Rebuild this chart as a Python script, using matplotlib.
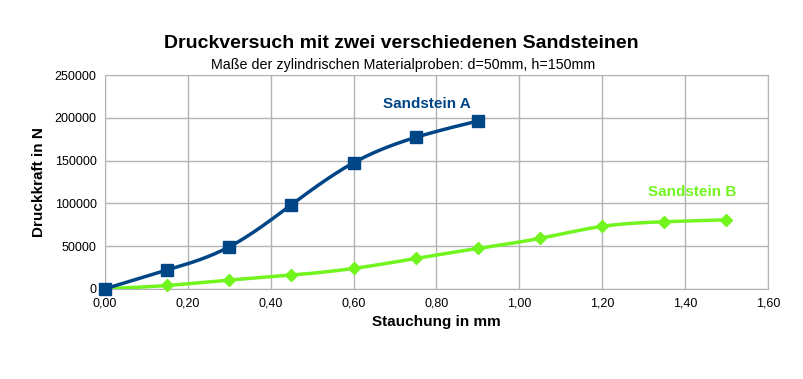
import numpy as np
import matplotlib.pyplot as plt

plt.rcParams['font.family'] = ['Liberation Sans', 'DejaVu Sans']

# Stauchung in mm / Druckkraft in N
x_a = [0.0, 0.15, 0.30, 0.45, 0.60, 0.75, 0.90]
y_a = [0, 21900, 49100, 98300, 147400, 177100, 196200]

x_b = [0.0, 0.15, 0.30, 0.45, 0.60, 0.75, 0.90, 1.05, 1.20, 1.35, 1.50]
y_b = [0, 3900, 10200, 16000, 23800, 35500, 47200, 59000, 73000, 78400, 80700]

x_ticks = [0.0, 0.2, 0.4, 0.6, 0.8, 1.0, 1.2, 1.4, 1.6]
y_ticks = [0, 50000, 100000, 150000, 200000, 250000]

col_a = '#004586'
col_b = '#72f51f'


def spline(x, y, n=300):
    # natural cubic spline through the points (smooth line like the office chart)
    x = np.asarray(x, float)
    y = np.asarray(y, float)
    k = len(x)
    h = np.diff(x)
    A = np.zeros((k, k))
    r = np.zeros(k)
    A[0, 0] = A[-1, -1] = 1
    for i in range(1, k - 1):
        A[i, i - 1] = h[i - 1]
        A[i, i] = 2 * (h[i - 1] + h[i])
        A[i, i + 1] = h[i]
        r[i] = 6 * ((y[i + 1] - y[i]) / h[i] - (y[i] - y[i - 1]) / h[i - 1])
    m = np.linalg.solve(A, r)
    xs = np.linspace(x[0], x[-1], n)
    idx = np.clip(np.searchsorted(x, xs) - 1, 0, k - 2)
    x0, x1 = x[idx], x[idx + 1]
    hh = x1 - x0
    t0, t1 = x1 - xs, xs - x0
    ys = (m[idx] * t0**3 + m[idx + 1] * t1**3) / (6 * hh) \
        + (y[idx] / hh - m[idx] * hh / 6) * t0 \
        + (y[idx + 1] / hh - m[idx + 1] * hh / 6) * t1
    return xs, ys


fig = plt.figure(figsize=(8.04, 3.79), dpi=100)
ax = fig.add_axes([0.1306, 0.238, 0.8244, 0.564])

xs, ys = spline(x_b, y_b)
ax.plot(xs, ys, color=col_b, lw=2.5, zorder=3)
ax.plot(x_b, y_b, 'D', color=col_b, ms=6, zorder=4, clip_on=False)

xs, ys = spline(x_a, y_a)
ax.plot(xs, ys, color=col_a, lw=2.5, zorder=5)
ax.plot(x_a, y_a, 's', color=col_a, ms=8.5, zorder=6, clip_on=False)

ax.set_xlim(0, 1.6)
ax.set_ylim(0, 250000)
ax.set_xticks(x_ticks)
ax.set_xticklabels([f'{v:.2f}'.replace('.', ',') for v in x_ticks])
ax.set_yticks(y_ticks)
ax.set_yticklabels([str(v) for v in y_ticks])
ax.tick_params(labelsize=9, length=0, pad=6)
ax.grid(True, color='#b3b3b3', lw=1)
ax.set_axisbelow(True)
for s in ax.spines.values():
    s.set_color('#b3b3b3')

ax.set_xlabel('Stauchung in mm', fontsize=11, fontweight='bold', labelpad=4)
ax.set_ylabel('Druckkraft in N', fontsize=11, fontweight='bold', labelpad=6)

ax.text(0.777, 216000, 'Sandstein A', color=col_a, fontsize=11,
        fontweight='bold', ha='center', va='center')
ax.text(1.417, 113000, 'Sandstein B', color=col_b, fontsize=11,
        fontweight='bold', ha='center', va='center')

fig.text(0.499, 0.886, 'Druckversuch mit zwei verschiedenen Sandsteinen',
         fontsize=14, fontweight='bold', ha='center', va='center')
fig.text(0.501, 0.828, 'Maße der zylindrischen Materialproben: d=50mm, h=150mm',
         fontsize=10.3, ha='center', va='center')

fig.savefig('out.png', dpi=100)
